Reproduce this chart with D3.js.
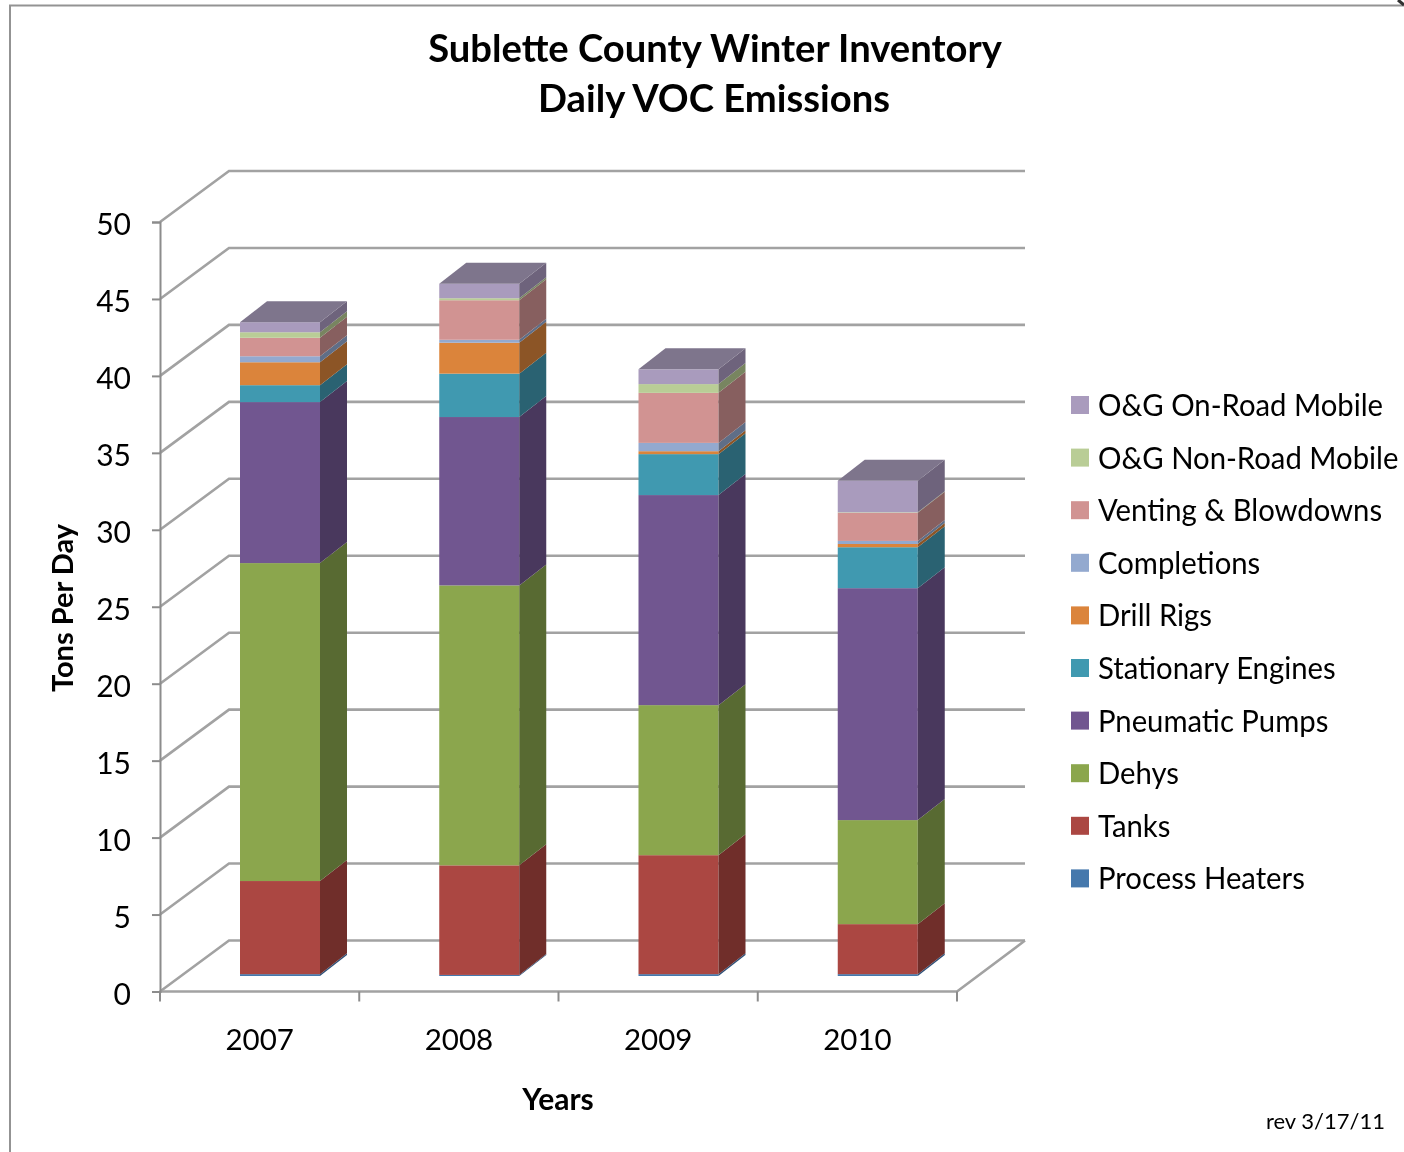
<!DOCTYPE html>
<html>
<head>
<meta charset="utf-8">
<style>
  html, body { margin: 0; padding: 0; background: #fff; }
  text { font-family: Lato, "Open Sans", sans-serif; fill: #000; }
</style>
<script src="https://cdn.jsdelivr.net/npm/d3@7/dist/d3.min.js"></script>
</head>
<body>
<svg id="chart" width="1404" height="1152">
  <defs>
    <!-- the source picture is a soft upscaled screenshot -->
    <filter id="soft" x="0" y="0" width="100%" height="100%" filterUnits="userSpaceOnUse">
      <feGaussianBlur stdDeviation="0.55"></feGaussianBlur>
    </filter>
  </defs>
</svg>
<script>
// years along the x axis
var years = ["2007", "2008", "2009", "2010"];

// series values, one per year, bottom of the stack first
var seriesNames = ["Process Heaters", "Tanks", "Dehys", "Pneumatic Pumps", "Stationary Engines",
  "Drill Rigs", "Completions", "Venting & Blowdowns", "O&G Non-Road Mobile", "O&G On-Road Mobile"];
var processHeaters = [0.12, 0.07, 0.12, 0.12];
var tanks = [6.05, 7.12, 7.73, 3.25];
var dehys = [20.66, 18.19, 9.75, 6.76];
var pneumaticPumps = [10.46, 10.94, 13.65, 15.07];
var stationaryEngines = [1.10, 2.82, 2.66, 2.66];
var drillRigs = [1.49, 2.01, 0.19, 0.21];
var completions = [0.39, 0.19, 0.54, 0.20];
var venting = [1.20, 2.57, 3.25, 1.83];
var nonRoad = [0.36, 0.13, 0.57, 0.03];
var onRoad = [0.65, 0.94, 0.96, 2.05];
var seriesValues = [processHeaters, tanks, dehys, pneumaticPumps, stationaryEngines,
  drillRigs, completions, venting, nonRoad, onRoad];

var frontColors = ["#4478ac", "#ab4643", "#8ba64e", "#715690", "#4099b0",
  "#db843b", "#93a9cf", "#d19392", "#b9cd96", "#a99bbd"];
var sideColors = ["#2d5078", "#6f2d2b", "#596b32", "#49375d", "#296272",
  "#8c5526", "#5f6e87", "#875f5e", "#788561", "#6e647b"];
var topColor = "#7e748c";

var yTicks = [0, 5, 10, 15, 20, 25, 30, 35, 40, 45, 50];

var svg = d3.select("#chart").append("g").attr("filter", "url(#soft)");

// white ground so the blur has something to sit on
svg.append("rect").attr("width", 1404).attr("height", 1152).attr("fill", "#fff");

// the 3d box: front plane of the axes, and how far back the wall sits
var plot = { left: 160, right: 957, bottom: 991.5, top: 222 };
var wall = { dx: 69, dy: -51 };
var bar = { width: 80, offset: 80, floor: -15.5, dx: 27, dy: -21 };

var x = d3.scaleBand().domain(years).range([plot.left, plot.right]);
var y = d3.scaleLinear().domain([0, 50]).range([plot.bottom, plot.top]);

// outer chart frame
svg.append("path")
  .attr("d", "M10,1152V5.5H1404")
  .attr("fill", "none").attr("stroke", "#939393").attr("stroke-width", 2);
svg.append("path")
  .attr("d", "M1398,0L1404,5")
  .attr("fill", "none").attr("stroke", "#333").attr("stroke-width", 3);

// walls and floor
var grid = svg.append("g").attr("fill", "none").attr("stroke", "#a2a2a2").attr("stroke-width", 2.6);
yTicks.forEach(function (t) {
  grid.append("path").attr("d", d3.line()([
    [plot.left, y(t)],
    [plot.left + wall.dx, y(t) + wall.dy],
    [plot.right + wall.dx - 1, y(t) + wall.dy]
  ]));
});
grid.append("path").attr("d", d3.line()([
  [plot.left, plot.bottom],
  [plot.right, plot.bottom],
  [plot.right + wall.dx - 1, plot.bottom + wall.dy]
]));

// bars, stacked segments drawn from the bottom up
var stack = d3.stack().keys(d3.range(seriesNames.length))
  .value(function (d, k) { return seriesValues[k][d]; });
var layers = stack(d3.range(years.length));

function by(v) { return y(v) + bar.floor; }

layers.forEach(function (layer, k) {
  layer.forEach(function (seg, i) {
    var x0 = x(years[i]) + bar.offset, x1 = x0 + bar.width;
    var y0 = by(seg[0]), y1 = by(seg[1]);
    svg.append("rect").attr("class", "front")
      .attr("x", x0).attr("y", y1)
      .attr("width", bar.width).attr("height", y0 - y1)
      .attr("fill", frontColors[k]);
    svg.append("path").attr("class", "side")
      .attr("d", d3.line()([[x1, y0], [x1 + bar.dx, y0 + bar.dy], [x1 + bar.dx, y1 + bar.dy], [x1, y1]]) + "Z")
      .attr("fill", sideColors[k]);
    if (k === seriesNames.length - 1) {
      svg.append("path").attr("class", "top")
        .attr("d", d3.line()([[x0, y1], [x1, y1], [x1 + bar.dx, y1 + bar.dy], [x0 + bar.dx, y1 + bar.dy]]) + "Z")
        .attr("fill", topColor);
    }
  });
});

// y axis
var yAxis = svg.append("g")
  .attr("transform", "translate(" + plot.left + ",0)")
  .call(d3.axisLeft(y).tickValues(yTicks).tickSize(8).tickPadding(21));
yAxis.selectAll("text").style("font-size", "30px").attr("dy", "0.42em");
yAxis.selectAll("line").attr("stroke", "#8c8c8c").attr("stroke-width", 2);
yAxis.select(".domain").attr("stroke", "#8c8c8c").attr("stroke-width", 2);

// x axis, labels in the band centres and ticks on the band edges
var xAxis = svg.append("g")
  .attr("transform", "translate(0," + plot.bottom + ")")
  .call(d3.axisBottom(x).tickSize(0).tickPadding(38));
xAxis.select(".domain").remove();
xAxis.selectAll("text").style("font-size", "29.5px");
svg.selectAll(".edge").data(d3.range(years.length + 1)).enter().append("line")
  .attr("class", "edge")
  .attr("x1", function (d) { return plot.left + d * x.step(); })
  .attr("x2", function (d) { return plot.left + d * x.step(); })
  .attr("y1", plot.bottom).attr("y2", plot.bottom + 10)
  .attr("stroke", "#8c8c8c").attr("stroke-width", 2);

// titles
var title = svg.append("text").attr("text-anchor", "middle")
  .style("font-size", "38.2px").style("font-weight", "bold");
title.append("tspan").attr("x", 715).attr("y", 62).text("Sublette County Winter Inventory");
title.append("tspan").attr("x", 714).attr("y", 112).text("Daily VOC Emissions");

svg.append("text").attr("text-anchor", "middle")
  .attr("transform", "translate(73,608) rotate(-90)")
  .style("font-size", "29px").style("font-weight", "bold").text("Tons Per Day");
svg.append("text").attr("text-anchor", "middle").attr("x", 558).attr("y", 1110)
  .style("font-size", "30px").style("font-weight", "bold").text("Years");
svg.append("text").attr("text-anchor", "end").attr("x", 1385).attr("y", 1129)
  .style("font-size", "22px").text("rev 3/17/11");

// legend, top entry is the top of the stack
var legendRow = 52.6;
var legend = svg.selectAll(".legend").data(d3.range(seriesNames.length).reverse()).enter().append("g")
  .attr("class", "legend")
  .attr("transform", function (d, i) { return "translate(1071," + (396 + i * legendRow) + ")"; });
legend.append("rect").attr("width", 18).attr("height", 18)
  .attr("fill", function (d) { return frontColors[d]; });
legend.append("text").attr("transform", "translate(27,20) scale(0.945,1)")
  .style("font-size", "31px").text(function (d) { return seriesNames[d]; });
</script>
</body>
</html>
